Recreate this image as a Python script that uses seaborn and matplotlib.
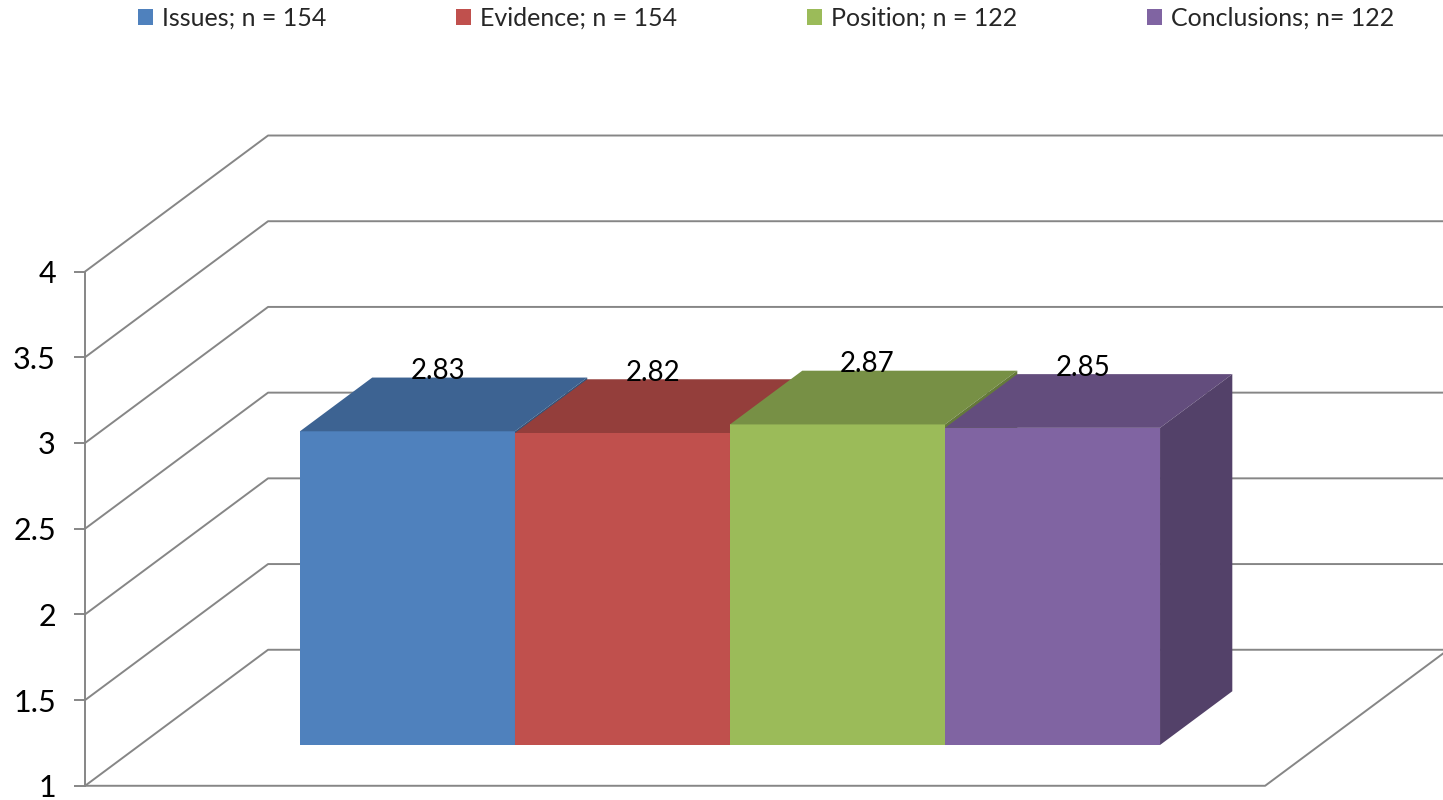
import matplotlib
matplotlib.use("Agg")
import matplotlib.pyplot as plt
import matplotlib.colors as mcolors
from matplotlib.patches import Polygon, Patch
import seaborn as sns
import pandas as pd

# values
categories = ["Issues", "Evidence", "Position", "Conclusions"]
legend_labels = ["Issues; n = 154", "Evidence; n = 154", "Position; n = 122", "Conclusions; n= 122"]
means = [2.83, 2.82, 2.87, 2.85]
value_labels = ["2.83", "2.82", "2.87", "2.85"]
y_ticks = [1, 1.5, 2, 2.5, 3, 3.5, 4]
y_tick_labels = ["1", "1.5", "2", "2.5", "3", "3.5", "4"]
bar_colors = ["#4F81BD", "#C0504D", "#9BBB59", "#8064A2"]

base = 1.0

sns.set_style("white")
plt.rcParams["font.family"] = ["Lato", "DejaVu Sans"]

# oblique projection: depth t (0 = front, 1 = back wall) moves points up and right
DX, DY = 0.851, 0.7935
T0, T1 = 0.30, 0.695          # front / back of the bars
FLOOR_L, FLOOR_R = -1.244, 4.244
GRID = "#868686"


def proj(x, v, t):
    return x + (t - T0) * DX, v + (t - T0) * DY


def shade(c, f):
    r, g, b = mcolors.to_rgb(c)
    return (r * f, g * f, b * f)


fig = plt.figure(figsize=(14.43, 8), dpi=100)
ax = fig.add_axes([0, 0, 1, 1])

df = pd.DataFrame({"category": categories, "mean": means})
df["height"] = df["mean"] - base

# front faces of the bars
sns.barplot(data=df, x="category", y="height", hue="category",
            palette=dict(zip(categories, bar_colors)), saturation=1, bottom=base,
            width=1.0, linewidth=0, legend=False, ax=ax)

fronts = sorted(ax.patches, key=lambda p: p.get_x())

# walls and floor
for v in y_ticks:
    pts = [proj(FLOOR_L, v, 0), proj(FLOOR_L, v, 1), proj(FLOOR_R, v, 1)]
    ax.plot([p[0] for p in pts], [p[1] for p in pts], color=GRID, lw=1.4, zorder=1)
pts = [proj(FLOOR_L, base, 0), proj(FLOOR_R, base, 0), proj(FLOOR_R, base, 1)]
ax.plot([p[0] for p in pts], [p[1] for p in pts], color=GRID, lw=1.4, zorder=1)

# top and side faces, labels
for i, (rect, c, lab) in enumerate(zip(fronts, bar_colors, value_labels)):
    x0 = rect.get_x()
    x1 = x0 + rect.get_width()
    bot = rect.get_y()
    top = bot + rect.get_height()
    rect.set_zorder(3 + 3 * i)
    top_face = [proj(x0, top, T0), proj(x1, top, T0), proj(x1, top, T1), proj(x0, top, T1)]
    side_face = [proj(x1, bot, T0), proj(x1, top, T0), proj(x1, top, T1), proj(x1, bot, T1)]
    ax.add_patch(Polygon(top_face, closed=True, facecolor=shade(c, 0.77),
                         edgecolor="none", zorder=4 + 3 * i))
    ax.add_patch(Polygon(side_face, closed=True, facecolor=shade(c, 0.65),
                         edgecolor="none", zorder=5 + 3 * i))
    ax.text(x0 + rect.get_width() / 2 + 0.14, top + (T1 - T0) * DY - 0.01, lab,
            ha="center", va="baseline", fontsize=20, color="black", zorder=30)

# front value axis
ax_x, lo = proj(FLOOR_L, y_ticks[0], 0)
_, hi = proj(FLOOR_L, y_ticks[-1], 0)
ax.set_yticks([proj(FLOOR_L, v, 0)[1] for v in y_ticks], labels=y_tick_labels)
ax.set_xticks([])
ax.set_xlabel("")
ax.set_ylabel("")
ax.spines["left"].set_position(("data", ax_x))
ax.spines["left"].set_bounds(lo, hi)
ax.spines["left"].set_color(GRID)
ax.spines["left"].set_linewidth(1.4)
for s in ["top", "right", "bottom"]:
    ax.spines[s].set_visible(False)
ax.tick_params(axis="y", left=True, direction="out", length=8, width=1.4,
               color=GRID, pad=13, labelsize=22, labelcolor="black")

ax.set_xlim(-1.895, 4.816)
ax.set_ylim(0.679, 5.346)

handles = [Patch(facecolor=c, edgecolor="none") for c in bar_colors]
fig.legend(handles, legend_labels, loc="center", bbox_to_anchor=(0.531, 0.977),
           ncol=4, frameon=False, fontsize=18, handlelength=0.6, handleheight=0.6,
           handletextpad=0.35, columnspacing=5.2)

fig.savefig("out.png", dpi=100)
